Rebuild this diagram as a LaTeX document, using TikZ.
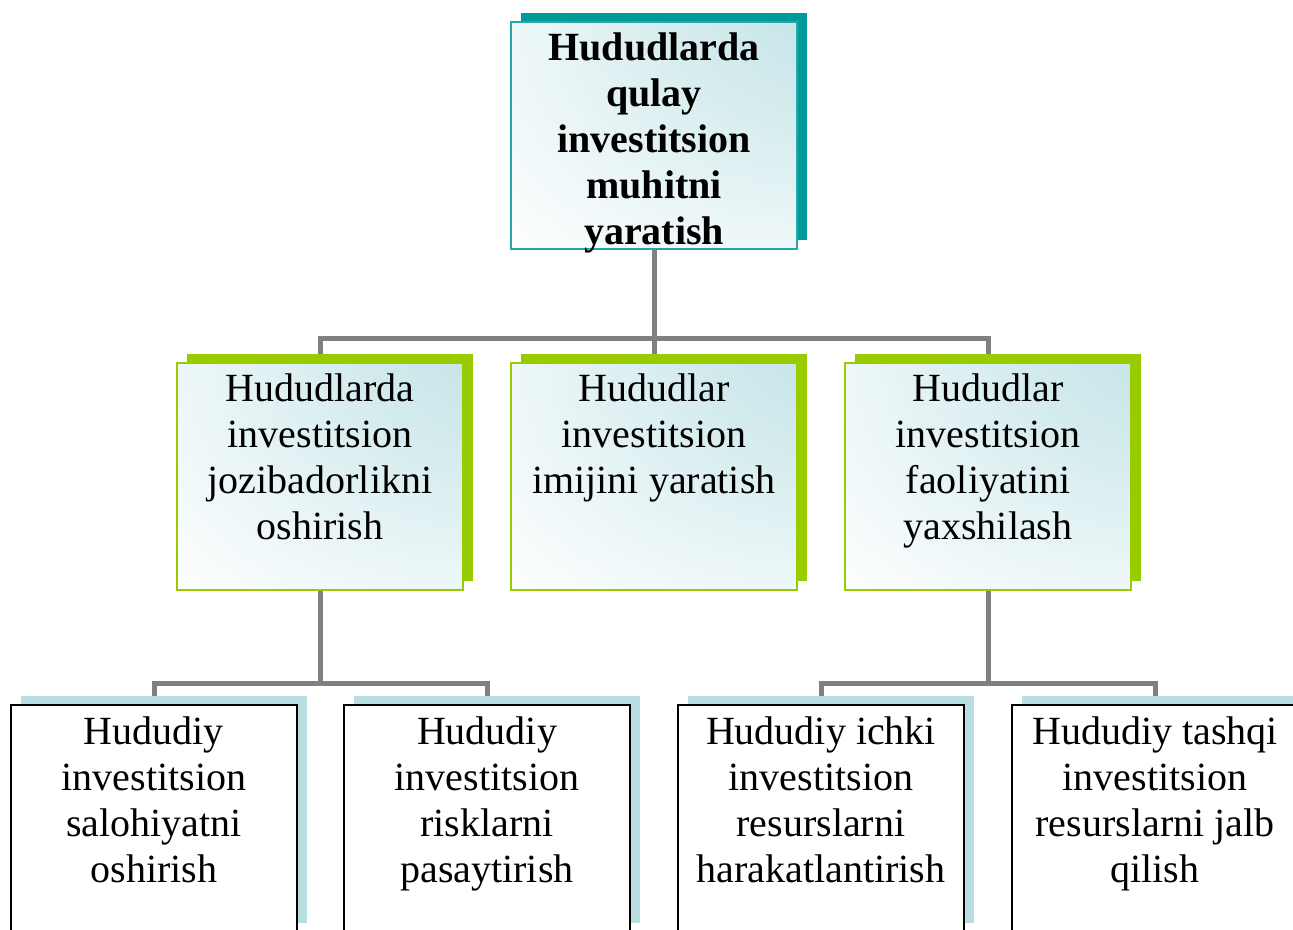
\documentclass[tikz,border=0pt]{standalone}
\usepackage{fontspec}
\setmainfont{Liberation Serif}
\usetikzlibrary{positioning,  % placement relatif
           shadows,           % ombres des cadres
           calc}
\pgfdeclarelayer{background}
\pgfsetlayers{background,main}
\definecolor{tl}{RGB}{0,153,153}
\definecolor{vert}{RGB}{153,204,0}
\definecolor{ciel}{RGB}{184,222,226}
\pgfdeclareradialshading{coin}{\pgfpoint{48bp}{48bp}}{color(0bp)=(ciel); color(8bp)=(ciel); color(62bp)=(white); color(100bp)=(white)}
\newcommand{\cadre}[1]{\parbox[t][227pt][t]{286pt}{\centering\rule{0pt}{39pt}#1}}

\begin{document}
\begin{tikzpicture}[x=1pt,y=-1pt,
  every node/.style={inner sep=0pt,anchor=north,font=\fontsize{40pt}{46pt}\selectfont},
  haut/.style={draw=tl!85,line width=1.5pt,shade,shading=coin,
    general shadow={fill=tl,shadow xshift=10pt,shadow yshift=9pt}},
  milieu/.style={draw=vert,line width=1.5pt,shade,shading=coin,
    general shadow={fill=vert,shadow xshift=10pt,shadow yshift=9pt}},
  bas/.style={draw=black,line width=2pt,fill=white,
    general shadow={fill=ciel,shadow xshift=10pt,shadow yshift=9pt}},
  lien/.style={draw=gray,line width=5pt}]
\useasboundingbox (0,0) rectangle (1293,929);
% sommet
\node[haut] (top) at (654,21) {\cadre{\bfseries Hududlarda\\qulay\\investitsion\\muhitni\\yaratish}};
% niveau 2
\node[milieu] (m1) at (320,362) {\cadre{Hududlarda\\investitsion\\jozibadorlikni\\oshirish}};
\node[milieu] (m2) at (654,362) {\cadre{Hududlar\\investitsion\\imijini yaratish}};
\node[milieu] (m3) at (988,362) {\cadre{Hududlar\\investitsion\\faoliyatini\\yaxshilash}};
% niveau 3
\node[bas] (b1) at (154,704) {\cadre{Hududiy\\investitsion\\salohiyatni\\oshirish}};
\node[bas] (b2) at (487,704) {\cadre{Hududiy\\investitsion\\risklarni\\pasaytirish}};
\node[bas] (b3) at (821,704) {\cadre{Hududiy ichki\\investitsion\\resurslarni\\harakatlantirish}};
\node[bas] (b4) at (1155,704) {\cadre{Hududiy tashqi\\investitsion\\resurslarni jalb\\qilish}};
\coordinate (j0) at (654,338);
\coordinate (j1) at (320,683);
\coordinate (j3) at (988,683);
\begin{pgfonlayer}{background}
\draw[lien] (top.south) -- (j0) -| (m1.north);
\draw[lien] (j0) -| (m3.north);
\draw[lien] (j0) -- (m2.north);
\draw[lien] (m1.south) -- (j1) -| (b1.north);
\draw[lien] (j1) -| (b2.north);
\draw[lien] (m3.south) -- (j3) -| (b3.north);
\draw[lien] (j3) -| (b4.north);
\end{pgfonlayer}
\end{tikzpicture}
\end{document}
